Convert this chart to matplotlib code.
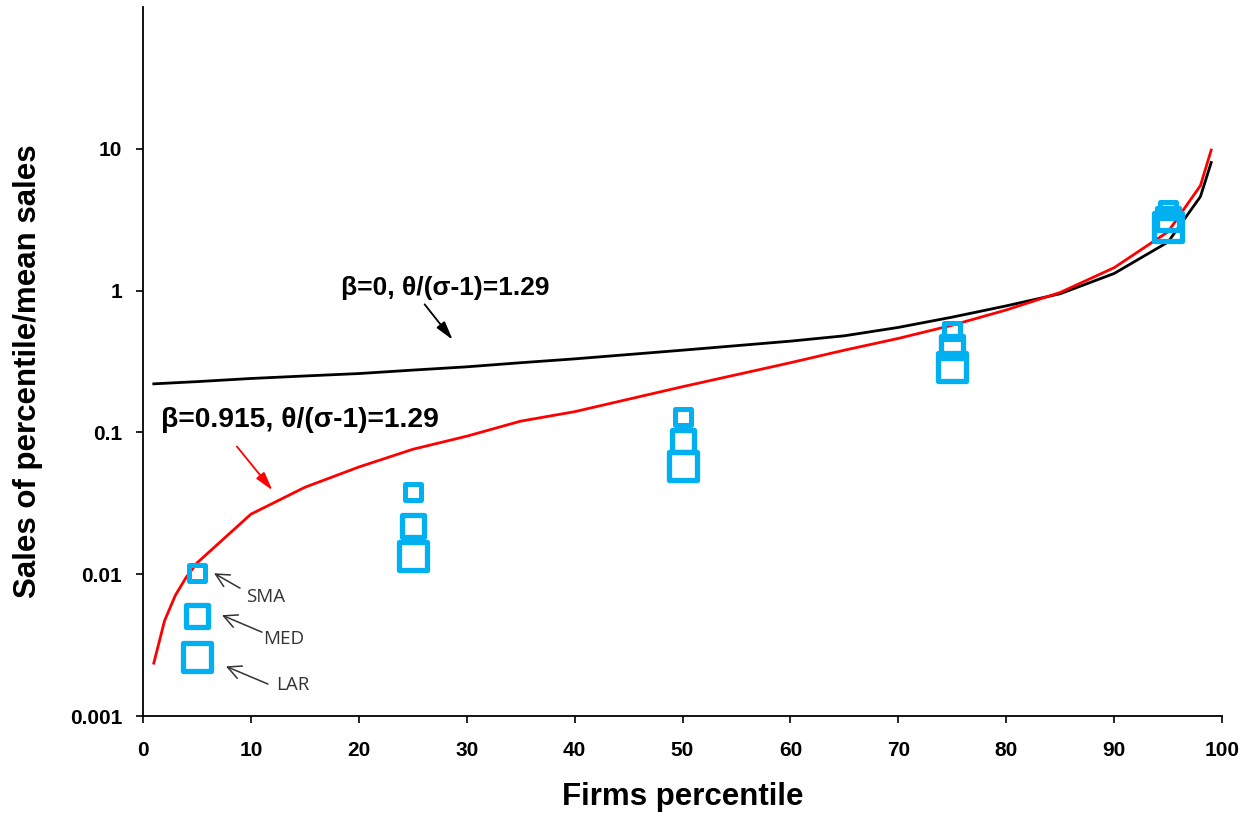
import matplotlib
matplotlib.use("Agg")
import matplotlib.pyplot as plt
from matplotlib.markers import MarkerStyle

plt.rcParams['font.family'] = ['Liberation Sans', 'DejaVu Sans']

# Model curves (percentile -> sales / mean sales)
pct_line = [1, 2, 3, 4, 5, 10, 15, 20, 25, 30, 35, 40, 50, 60, 65, 70, 75, 80, 85, 90, 95, 98, 99]
beta0 = [0.22, 0.222, 0.224, 0.226, 0.228, 0.24, 0.25, 0.26, 0.275, 0.29, 0.31, 0.33, 0.38, 0.44, 0.48, 0.55, 0.65, 0.78, 0.95, 1.32, 2.2, 4.6, 8.0]
beta0915 = [0.00236, 0.0047, 0.0071, 0.0095, 0.012, 0.0265, 0.041, 0.057, 0.076, 0.094, 0.12, 0.14, 0.21, 0.31, 0.38, 0.46, 0.57, 0.73, 0.97, 1.45, 2.6, 5.5, 9.8]

# Data points by firm size
pct_pts = [5, 25, 50, 75, 95]
sma = [0.0102, 0.038, 0.129, 0.52, 3.7]
med = [0.0051, 0.022, 0.087, 0.40, 3.2]
lar = [0.0026, 0.0134, 0.058, 0.29, 2.8]

xticks = [0, 10, 20, 30, 40, 50, 60, 70, 80, 90, 100]
yticks = [0.001, 0.01, 0.1, 1, 10]
ytick_labels = ['0.001', '0.01', '0.1', '1', '10']

fig = plt.figure(figsize=(12.52, 8.22), dpi=100)
ax = fig.add_axes([143/1252, 1-716/822, (1222-143)/1252, (716-7)/822])

ax.plot(pct_line, beta0, color='black', lw=2.0, zorder=3)
ax.plot(pct_line, beta0915, color='#ff0000', lw=2.0, zorder=3)

blue = '#00b0f0'
sq = MarkerStyle('s', joinstyle='round')
ax.plot(pct_pts, lar, linestyle='none', marker=sq, ms=20.5, mfc='none', mec=blue, mew=3.8, zorder=4)
ax.plot(pct_pts, med, linestyle='none', marker=sq, ms=15.5, mfc='none', mec=blue, mew=3.8, zorder=4)
ax.plot(pct_pts, sma, linestyle='none', marker=sq, ms=11, mfc='none', mec=blue, mew=3.6, zorder=4)

ax.set_yscale('log')
ax.set_xlim(0, 100)
ax.set_ylim(0.001, 100)
ax.set_xticks(xticks)
ax.set_xticklabels([str(t) for t in xticks])
ax.set_yticks(yticks)
ax.set_yticklabels(ytick_labels)
ax.yaxis.set_minor_locator(matplotlib.ticker.NullLocator())
ax.tick_params(axis='both', labelsize=15, length=5, width=1.2, direction='out')
for lab in ax.get_xticklabels() + ax.get_yticklabels():
    lab.set_fontweight('bold')
ax.tick_params(axis='x', pad=13)
ax.tick_params(axis='y', pad=10)

for s in ['top', 'right']:
    ax.spines[s].set_visible(False)
for s in ['left', 'bottom']:
    ax.spines[s].set_linewidth(1.3)

ax.set_xlabel('Firms percentile', fontsize=22.5, fontweight='bold', labelpad=16)
ax.set_ylabel('Sales of percentile/mean sales', fontsize=22.5, fontweight='bold', labelpad=19)
ax.yaxis.label.set_y(0.4866)

# Curve annotations
big_arrow = dict(arrowstyle='-|>,head_length=0.8,head_width=0.22', lw=1.3, shrinkA=0, shrinkB=0, mutation_scale=14)
ax.text(28.0, 1.05, 'β=0, θ/(σ-1)=1.29', fontsize=19, fontweight='bold', ha='center', va='center')
ax.annotate('', xy=(28.7, 0.45), xytext=(26.1, 0.80), arrowprops=dict(color='black', **big_arrow))
ax.text(14.55, 0.1216, 'β=0.915, θ/(σ-1)=1.29', fontsize=20.3, fontweight='bold', ha='center', va='center')
ax.annotate('', xy=(12.0, 0.039), xytext=(8.7, 0.0796), arrowprops=dict(color='#ff0000', **big_arrow))

# Size labels
small_font = ['Open Sans', 'DejaVu Sans']
small_arrow = dict(arrowstyle='->,head_length=0.6,head_width=0.3', color='#333333', lw=1.1, shrinkA=0, shrinkB=0, mutation_scale=16)
ax.text(9.55, 0.00689, 'SMA', fontsize=13.5, family=small_font, ha='left', va='center', color='#333333')
ax.annotate('', xy=(6.58, 0.01016), xytext=(8.99, 0.00797), arrowprops=small_arrow)
ax.text(11.12, 0.00348, 'MED', fontsize=13.5, family=small_font, ha='left', va='center', color='#333333')
ax.annotate('', xy=(7.32, 0.00514), xytext=(11.03, 0.0039), arrowprops=small_arrow)
ax.text(12.33, 0.00165, 'LAR', fontsize=13.5, family=small_font, ha='left', va='center', color='#333333')
ax.annotate('', xy=(7.69, 0.00224), xytext=(11.58, 0.00168), arrowprops=small_arrow)

fig.savefig('out.png', dpi=100)
